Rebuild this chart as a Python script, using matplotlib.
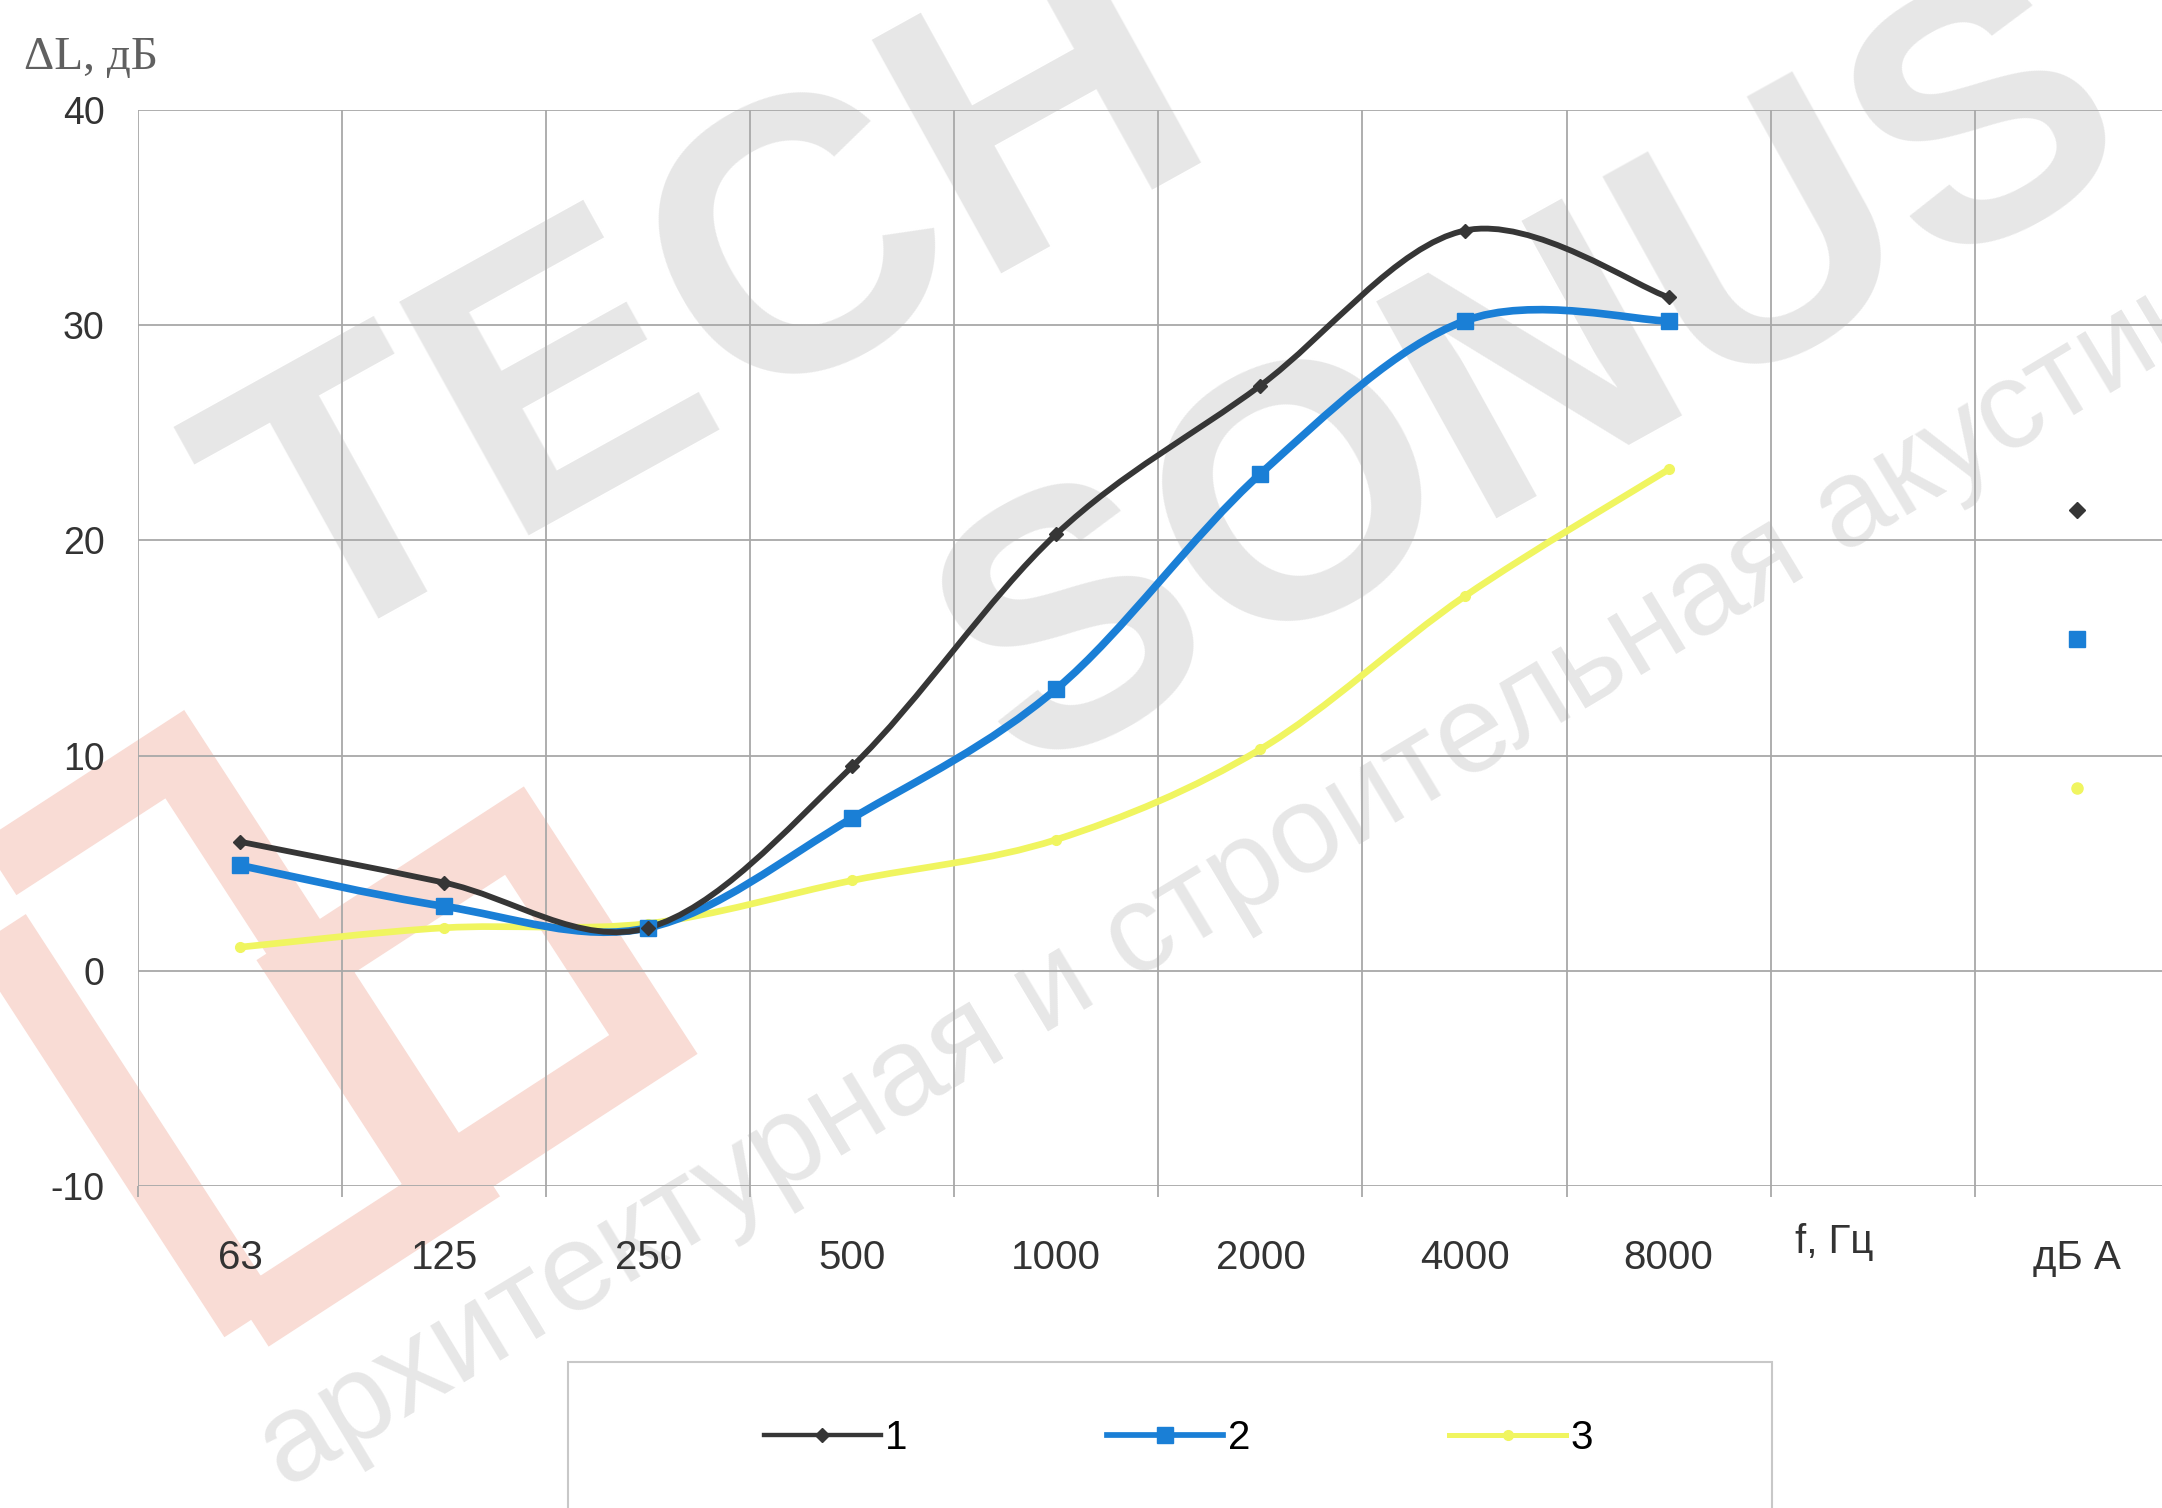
import numpy as np
import matplotlib.pyplot as plt
from matplotlib.path import Path
from matplotlib.patches import PathPatch, Rectangle, Polygon
from matplotlib.lines import Line2D

plt.rcParams['axes.unicode_minus'] = False

# data
freqs = ["63", "125", "250", "500", "1000", "2000", "4000", "8000"]
s1 = [6.0, 4.1, 2.0, 9.5, 20.3, 27.2, 34.4, 31.3]
s2 = [4.9, 3.0, 2.0, 7.1, 13.1, 23.1, 30.2, 30.2]
s3 = [1.1, 2.0, 2.2, 4.2, 6.1, 10.3, 17.4, 23.3]
dba = [21.4, 15.4, 8.5]  # values in the "дБ А" column
names = ["1", "2", "3"]
colors = ["#363636", "#1a7fd6", "#f0f560"]

narrow = ["Liberation Sans Narrow", "Liberation Sans", "DejaVu Sans"]
W, H = 2162, 1508


def smooth_path(xs, ys):
    # excel-like smoothed line: cubic bezier segments through the points
    pts = np.column_stack([xs, ys]).astype(float)
    n = len(pts)
    verts = [pts[0]]
    codes = [Path.MOVETO]
    for i in range(n - 1):
        p0 = pts[i - 1] if i > 0 else pts[i]
        p1 = pts[i]
        p2 = pts[i + 1]
        p3 = pts[i + 2] if i + 2 < n else pts[i + 1]
        verts += [p1 + (p2 - p0) / 6, p2 - (p3 - p1) / 6, p2]
        codes += [Path.CURVE4] * 3
    return Path(verts, codes)


def frame_corners(cx, cy, w, h, ang):
    # rotated rectangle, pixel coords (y up) -> figure fraction
    a = np.deg2rad(ang)
    u = np.array([np.cos(a), np.sin(a)])
    v = np.array([-np.sin(a), np.cos(a)])
    c = np.array([cx, cy])
    pts = [c + (sx * w / 2) * u + (sy * h / 2) * v for sx, sy in [(-1, -1), (1, -1), (1, 1), (-1, 1)]]
    return [(p[0] / W, p[1] / H) for p in pts]


fig = plt.figure(figsize=(21.62, 15.08), dpi=100)
fig.patch.set_facecolor("white")
ax = fig.add_axes([0.0638, 0.2135, 0.944, 0.7135])

ax.set_xlim(-0.5, 9.5)
ax.set_ylim(-10, 40)
ax.set_yticks([-10, 0, 10, 20, 30, 40])
ax.set_xticks(list(range(len(freqs))) + [9])
ax.set_xticklabels(freqs + ["дБ А"])
ax.set_xticks(np.arange(-0.5, 10, 1), minor=True)
ax.grid(True, which="minor", axis="x", color="#a8a8a8", lw=1.3)
ax.grid(True, which="major", axis="y", color="#a8a8a8", lw=1.3)
ax.tick_params(axis="x", which="major", length=0, pad=38, labelsize=29, labelcolor="#333333")
ax.tick_params(axis="x", which="minor", length=8, color="#a8a8a8", width=1.3)
ax.tick_params(axis="y", length=0, pad=24, labelsize=27, labelcolor="#333333")
for lab in ax.get_xticklabels() + ax.get_yticklabels():
    lab.set_family(narrow)
for sp in ax.spines.values():
    sp.set_visible(False)

x = np.arange(len(freqs))
widths = [4.2, 5.5, 4.8]
markers = ["D", "s", "o"]
msizes = [7, 11, 7]
for i, ys in enumerate([s1, s2, s3]):
    ax.add_patch(PathPatch(smooth_path(x, ys), fill=False, edgecolor=colors[i],
                           lw=widths[i], capstyle="round", zorder=3 + (2 - i)))
    ax.plot(x, ys, ls="none", marker=markers[i], ms=msizes[i], color=colors[i],
            zorder=4 + (2 - i))
    ax.plot([9], [dba[i]], ls="none", marker=markers[i], ms=msizes[i] + 1,
            color=colors[i], zorder=4)

ax.text(7.81, -11.7, "f, Гц", ha="center", va="top", fontsize=29,
        color="#333333", family=narrow, clip_on=False)
fig.text(0.011, 0.962, "ΔL, дБ", fontsize=34, color="#606060",
         family=["Liberation Serif", "DejaVu Serif"], va="center")

# faint watermark (logo frames + text), under the grid and lines
pink = "#f9dcd5"
for cx, cy, w, h in [(213, 471, 244, 516), (477, 501, 255, 255)]:
    ax.add_patch(Polygon(frame_corners(cx, cy, w, h, 33), closed=True, fill=False,
                         edgecolor=pink, lw=46, joinstyle="miter",
                         transform=fig.transFigure, clip_on=False, zorder=1))
wm = dict(color="#bdbdbd", alpha=0.36, ha="center", va="center", zorder=1,
          transform=fig.transFigure, clip_on=False,
          family=["Liberation Sans", "DejaVu Sans"])
ax.text(0.33, 0.79, "TECH", fontsize=280, rotation=29, fontweight="bold", **wm)
ax.text(0.71, 0.745, "SONUS", fontsize=260, rotation=29, fontweight="bold", **wm)
ax.text(0.584, 0.426, "архитектурная и строительная акустика", fontsize=90,
        rotation=31, **wm)

# legend box at the bottom
fig.patches.append(Rectangle((0.2627, -0.05), 0.557, 0.147, transform=fig.transFigure,
                             fill=False, edgecolor="#c8c8c8", lw=1.5))
handles = [Line2D([], [], color=colors[i], lw=widths[i] * 0.75, marker=markers[i],
                  ms=msizes[i]) for i in range(3)]
fig.legend(handles, names, loc="center", bbox_to_anchor=(0.545, 0.0464), ncol=3,
           frameon=False, handlelength=2.9, handletextpad=0.1, columnspacing=4.95,
           prop={"family": narrow, "size": 29})

fig.savefig("out.png", dpi=100)
